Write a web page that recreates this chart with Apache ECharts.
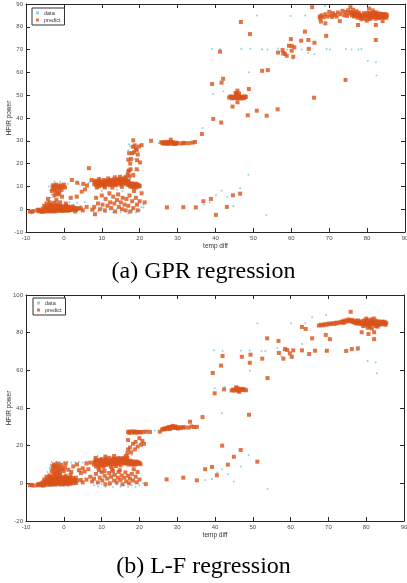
<!DOCTYPE html>
<html><head><meta charset="utf-8">
<script src="https://cdn.jsdelivr.net/npm/echarts/dist/echarts.min.js"></script>
<style>html,body{margin:0;padding:0;background:#fff}#c{width:407px;height:583px}</style>
</head><body><div id="c"></div>
<script>
const xTicks = [-10,0,10,20,30,40,50,60,70,80,90];
const gprYTicks = [-10,0,10,20,30,40,50,60,70,80,90];
const lfYTicks = [-20,0,20,40,60,80,100];
const seriesNames = ['data','predict'];
const captions = ['(a) GPR regression','(b) L-F regression'];
const xName = 'temp diff';
const yName = 'HFIR power';

const gprData = [[-7,-1.5],[-6,-1.2],[-5,-1.5],[-4,-1.3],[-3,-1.4],[-2,-1.2],[-1,-1.3],[0,-1],[1,-1.2],[2,-0.8],[3,-0.5],[-4.5,1.8],[-4,3.5],[-3.5,5],[-3.2,6.5],[-3.5,8.5],[-3.2,11.2],[-4,10],[-2.5,12],[-1,12],[1,11],[1.5,3],[2.5,2],[3.5,2.8],[4.5,1.5],[5.5,3.2],[6.5,11.5],[7,12],[4,11],[8,0],[9,-1],[10,0.5],[11,-1.5],[12,0],[13,-1.2],[14,0.2],[15,-1.5],[16,-0.5],[17,-1.8],[18,-0.8],[19,-1.5],[20,-0.5],[21,0.8],[15.5,8],[17.5,13.5],[18.5,14],[17,26],[17.4,27.5],[17.2,28.5],[18.5,22],[19.8,17],[21,2],[10,8],[12,6],[14,8.5],[9.5,13.5],[13,14],[16,14.5],[25,29],[32,28.6],[20.5,1],[50.9,85],[59.8,84.7],[63.7,85],[68.9,89.1],[39.1,70.3],[41.2,70.3],[46.8,70.3],[49.2,70.3],[52.3,70.2],[53.7,70],[56.5,70.5],[58.9,70],[62.7,70],[64.5,68.5],[66.1,68],[69.3,70.3],[70.2,70],[74.4,70.3],[75.9,70],[78.5,70.3],[77.7,70],[80.2,65.1],[82.3,64.4],[82.5,58.6],[48.8,60.1],[42.1,51.7],[39.4,50.4],[36.6,35.6],[48.7,15.1],[46.5,9.2],[41.6,8.1],[40.1,6.1],[43.1,5.2],[38.5,2.9],[37,2.1],[44.7,1.4],[53.4,-2.5],[60.5,66],[57.5,67.5],[72,86],[78,86.5],[84,86]];

const gprPredict = [[-9,-1],[-8.5,-1.2],[-8,-0.8],[-7,-0.5],[-6.5,-1],[-6,-0.8],[-5.8,-1.2],[-5.5,-0.5],[-5.2,-1],[-5,-0.2],[-4.8,-0.9],[-4.5,0.3],[-4.3,-0.6],[-4,0.8],[-4,-1],[-3.8,0.2],[-3.6,-0.4],[-3.5,1.2],[-3.3,-0.8],[-3.2,0.5],[-3,0],[-3,1.5],[-2.8,-0.6],[-2.6,0.7],[-2.5,-0.2],[-2.3,1],[-2.2,-0.9],[-2,0.3],[-1.8,-0.5],[-1.7,0.8],[-1.5,0],[-1.3,-0.7],[-1.2,1.2],[-1,0.4],[-0.8,-0.4],[-0.6,0.9],[-0.5,-0.1],[-0.3,0.5],[-0.2,-0.8],[0,0.2],[0.2,1],[0.3,-0.5],[0.5,0.5],[0.7,-0.2],[0.9,0.8],[1,0],[1.2,-0.6],[1.4,0.6],[1.6,0.1],[1.8,-0.3],[2,0.7],[2.3,0.2],[2.6,-0.2],[3,0.4],[3.5,0.1],[-4.6,2.5],[-3.8,3],[-3.4,2],[-2.7,2.8],[-1.9,2.2],[-1,3],[0.5,2.5],[-5.2,1.5],[4,0.5],[-2,4],[-4.2,4.5],
[-6.8,-0.2],[-6.2,-0.4],[-5.6,0.2],[-4.9,0.6],[-4.4,1.1],[-3.9,-0.3],[-3.7,1.6],[-3.1,-0.9],[-2.9,0.9],[-2.4,0.1],[-2.1,1.6],[-1.9,-0.2],[-1.6,1.4],[-1.4,-0.3],[-1.1,0.6],[-0.9,1.5],[-0.7,0.2],[-0.4,-0.5],[-0.1,1.3],[0.1,-0.3],[0.4,0.9],[0.6,1.6],[0.8,-0.5],[1.1,1.2],[1.3,0.3],[1.5,-0.4],[1.7,1],[2.1,-0.1],[2.4,1.1],[2.8,0.6],[3.2,-0.2],[-4.1,-0.3],[-3.4,0.7],[-2.6,-0.9],
[-3,10],[-2.8,9],[-2.6,10.5],[-2.4,8.5],[-2.2,9.8],[-2,10.8],[-1.8,8],[-1.6,9.5],[-1.4,10.2],[-1.2,7.2],[-1,9],[-0.8,10.5],[-0.6,8.5],[-0.3,9.8],[0,10.8],[-2.5,6],[-1.5,6.5],[-0.5,5.5],[-2.2,7],[0.3,9.5],[-3.2,8],
[2.1,12.8],[3.5,11.6],[5.1,11.1],[5.6,8.7],[6.6,18],[6.1,10.4],[4.7,7.7],[7.3,12.8],[1.8,5],[3.4,5.5],
[8,11],[8.3,12],[8.5,10.5],[8.8,11.5],[9,12.5],[9.2,10],[9.5,11],[9.8,12],[10,10.5],[10.2,11.8],[10.5,12.8],[10.7,10.2],[11,11.3],[11.2,12.5],[11.5,10.8],[11.8,11.8],[12,12.8],[12.2,10.5],[12.5,11.5],[12.7,12.2],[13,10.8],[13.2,13],[13.5,11.8],[13.8,10.5],[14,12.5],[14.2,11.2],[14.5,13.2],[14.7,12],[15,10.8],[15.2,12.8],[15.5,11.5],[15.7,13.5],[16,12],[16.2,11],[16.5,13],[16.8,12.2],[17,10.5],[17.2,11.5],[17.5,10],[17.7,11],[18,9.8],[18.2,10.8],[18.5,10.2],[18.8,11.2],[19,9.5],[19.3,10.5],[19.6,10.8],[20,10.2],[16.3,14],[16.8,15],[17,16.5],[17.3,14.5],[9.3,13.2],[10.8,9.5],[12.8,9.5],[13.5,14],[11.7,13.5],[15.3,9.8],[14.8,14.2],[8.7,9.5],
[8.1,12.5],[8.6,11.2],[9.1,11.5],[9.4,12.2],[9.7,10.8],[10.1,11.5],[10.4,10.8],[10.9,12.3],[11.3,11.8],[11.7,11],[12.1,11.5],[12.4,12.8],[12.9,11.5],[13.1,12.2],[13.4,10.9],[13.7,12.8],[14.1,11.8],[14.4,12.6],[14.9,11.5],[15.1,12.2],[15.4,13],[15.8,12.3],[16.1,13.2],[16.4,12],[16.7,11.2],[17.1,12.4],[17.4,10.8],[17.8,10.2],[18.1,11.3],[18.4,9.8],[18.7,10.6],[19.1,11],[19.4,9.9],[19.8,10],
[7.5,-0.2],[8,1],[8.5,5],[9,2.5],[9.5,0],[10,6],[10.2,2],[10.8,-0.5],[11,4.5],[11.5,1.5],[12,7],[12.2,3],[12.5,0.5],[13,5.5],[13.3,2.5],[13.5,-1],[14,4],[14.3,6.5],[14.5,1],[15,3],[15.3,0],[15.5,5],[16,2],[16.3,-0.5],[16.5,4.5],[17,1.5],[17.3,6],[17.5,-1],[18,3.5],[18.3,0.5],[18.5,8],[19,5],[19.3,2],[19.5,-0.5],[20,3.5],[20.5,7],[21.3,3],[8.2,-2.2],[5,-0.5],[6,1],[4.5,0.3],[3,-1],
[17.2,17],[17.5,20],[17.7,22],[18,24.5],[18.2,27.4],[18.5,25],[18.7,28],[19,26.5],[19.2,26],[19.5,24],[19.8,27.5],[20.1,20.5],[20.5,28.1],[19.3,21.5],[18.3,30.2],[17,21.7],[19.2,17.5],[17.2,24.6],[18.3,15],[17.6,17.5],
[23,30],[25.7,29.4],[26,29],[26.3,28.8],[26.6,29.5],[27,29],[27.3,28.7],[27.6,29.3],[28,29.2],[28.2,30.5],[28.5,28.8],[28.8,29.3],[29,29],[29.3,28.6],[29.6,29.2],[30,29],[31,28.8],[31.5,29.1],[32,29],[33,29],[34,29.2],[34.6,29.5],[26.8,28.9],[27.8,28.7],[28.4,29.5],[29.1,28.7],[29.8,28.8],[27.4,29.4],[27.2,0.8],[31.5,0.9],[34.8,0.8],[36.8,3.5],[36.4,33],
[38.8,4.5],[40.1,-2.5],[43,1],[44.6,6.1],[46.5,6.8],[39.4,39.6],[41.5,38],[39.1,54.9],[41.6,55.5],[42,57.2],[41.2,69.1],
[43.6,49],[44,49.5],[44.3,48.6],[44.6,49.2],[45,49],[45.3,49.6],[45.5,48.8],[45.8,49.3],[46,48.6],[46.2,49.8],[46.5,49.1],[46.8,48.7],[47,49.4],[47.3,49],[47.6,48.8],[48,49.2],[45.3,51],[45.8,52],[45.5,50.5],[46.2,50.8],[45.8,46.9],[44.5,45],[44.2,49.2],[44.9,48.8],[45.6,49.8],[46.4,48.9],[47.1,48.6],[47.8,49.5],
[48.8,52.7],[48.5,41.2],[50.9,43.2],[53.5,41],[56.4,43.8],[52.3,60.7],[53.8,61],[46.7,82.1],[49.1,76.8],
[57.7,69.8],[57.9,68.6],[58.3,68.1],[58.8,67.3],[59.4,71.7],[60.1,71.6],[60.8,71],[60.1,69.5],[60.5,66.9],[56.5,68.7],[59.9,74.6],[62.6,73.9],[63.6,77.9],[64.5,74.2],[66.1,73],[64.6,70.3],[65.5,88.6],[69.2,76],[74.3,56.7],[66,48.9],[82.3,74.2],
[67.5,84.5],[67.6,83.7],[67.8,82.3],[68,85],[68.5,84.2],[69,85.5],[69,81.5],[69.5,84.5],[70,86.6],[70.3,85],[70.8,84.3],[71,86],[71.5,85.2],[72,84.5],[72.3,86.3],[72.8,82.5],[73,85.5],[73.5,87],[74,85],[74.3,86.5],[74.7,84.8],[75,87.2],[75.3,85.8],[75.6,88.6],[75.8,86.5],[76,85],[76.3,87.5],[76.5,84.5],[76.8,86],[77,85.3],[77.2,86.8],[77.6,80.8],[77.5,84],
[78,85.5],[78.3,84],[78.6,85],[79,84.5],[79.2,86],[79.5,83.5],[79.9,82.7],[80,85],[80.3,84.2],[80.6,85.8],[80.8,84.8],[81,83.8],[81.3,85.3],[81.5,84.5],[81.8,86.2],[82,85],[82.2,83.5],[82.5,84.8],[82.7,85.8],[83,84.2],[83.2,85],[83.5,84.5],[83.8,85.5],[84,84.8],[84.3,84],[84.6,85],[85,84.6],[85.2,85.2],[82.3,80.8],[84.1,82.5],[80.5,88],[81.5,87.2],
[76.2,86],[76.7,85.2],[77.3,84.7],[77.8,86.2],[78.2,85],[78.8,84.2],[79.3,85.3],[79.7,84.8],[80.1,86.2],[80.4,85.3],[80.9,86],[81.2,84.5],[81.6,85.8],[81.9,85],[82.1,84.3],[82.4,86.3],[82.9,85.4],[83.1,83.8],[83.4,85.8],[83.7,84.2],[84.2,85.5],[84.5,84.4],[84.8,85.6],[85.1,84],[78.5,83.3],[80.7,83.4]];

const lfData = [[51.2,85],[60.1,85],[63.9,85],[65.7,88.2],[69.4,89.4],[39.7,70.6],[42,70.2],[46.8,70.4],[49.2,70.5],[52.3,70.2],[53.3,70.2],[56.5,72],[58.6,70.6],[63,74],[66.1,70.6],[69.3,70],[77.7,70.6],[80.4,65],[82.5,64.3],[82.8,58.4],[49.2,59.8],[39.9,50.5],[42.5,51.3],[41.8,37.2],[48.9,15],[46.8,9],[41.9,7.5],[40.6,5.8],[43.4,4.9],[37.4,1.8],[39.2,2.3],[45,1],[53.9,-2.9],[60.5,66.5],[57.5,67.5],[-7,-1.5],[-6,-1.3],[-5,-1.6],[-4,-1.4],[-3,-1.5],[-2,-1.3],[-1,-1.4],[0,-1.1],[1,-1.3],[2,-1],[3,-0.6],[-3.5,10],[-3.2,11.5],[-2,11.5],[-1,11],[0,11.5],[1,11.5],[2,11],[3,11.2],[4,11.5],[5,11],[6,11.5],[-4.3,6],[-3.8,8],[8,-1],[9,-1.5],[10,-0.5],[11,-1.8],[12,-1],[13,-2],[14,-0.8],[15,-1.8],[16,-1],[17,-2],[18,-1.2],[19,-1.8],[20,-1],[21,0],[17,14.5],[18,15],[16,15],[9,14.5],[17,28],[19,27.8],[22,28],[24,28],[30,28.8],[32,29],[10,6],[13,5],[15,7],[72,84],[78,84],[84,84.5]];

const lfPredict = [[-9,-1],[-8.5,-0.8],[-8,-1.2],[-7,-1],[-6.5,-0.6],[-6,-1],[-5.7,-0.4],[-5.5,-1.2],[-5.2,0],[-5,-0.8],[-4.8,0.5],[-4.5,-0.5],[-4.3,1],[-4,0],[-4,2],[-3.8,-0.8],[-3.6,1.5],[-3.5,0.3],[-3.3,2.5],[-3.2,-0.3],[-3,1],[-3,3],[-2.8,0],[-2.6,2],[-2.5,-0.6],[-2.3,1.2],[-2.2,3.5],[-2,0.4],[-1.8,2.2],[-1.7,-0.5],[-1.5,1],[-1.3,3],[-1.2,0],[-1,1.8],[-0.8,-0.4],[-0.6,2.5],[-0.5,0.6],[-0.3,1.5],[-0.2,-0.6],[0,0.8],[0.2,2.2],[0.3,-0.2],[0.5,1.2],[0.7,0],[0.9,2],[1,0.5],[1.2,-0.5],[1.4,1.5],[1.6,3],[1.8,0.2],[2,1.2],[2.3,0.4],[2.6,2],[3,0.8],[3.5,1.5],[-4.6,3.5],[-3.8,4.2],[-2.7,4.8],[-1.9,5],[-1,4.5],[0.5,4],[1.8,4.5],[-5.2,2],[3.2,3],
[-6.8,-0.5],[-6.2,-0.2],[-5.6,0.5],[-4.9,1.2],[-4.4,2.3],[-3.9,0.6],[-3.7,2.8],[-3.1,1.8],[-2.9,-0.4],[-2.4,2.6],[-2.1,1.4],[-1.9,3.6],[-1.6,0.2],[-1.4,2.4],[-1.1,3.8],[-0.9,0.9],[-0.7,3.3],[-0.4,2],[-0.1,0],[0.1,3.2],[0.4,1.8],[0.6,0.4],[0.8,3],[1.1,1.2],[1.3,2.6],[1.5,0.8],[1.7,2],[2.1,0],[2.4,2.8],[2.8,1.5],[3.2,0.2],[-4.1,0.9],[-3.4,3.6],[-2.6,1],
[-3,9],[-2.8,7.5],[-2.6,10],[-2.4,8],[-2.2,9.5],[-2,6.5],[-1.8,8.5],[-1.6,10.5],[-1.4,7],[-1.2,9],[-1,6],[-0.8,8],[-0.6,9.8],[-0.3,7.5],[0,6.5],[0.3,8.5],[-2.5,5.5],[-1.5,5.8],[-3.2,6.5],[0.5,10.5],[1.2,7.2],[2,6],[2.5,9],[3.5,10],[4.5,5.5],[5,8],[6,10.5],[5.5,6.2],[7,11],[6.5,7.5],[4,7],
[8,10],[8.2,11.5],[8.5,9],[8.7,12.5],[9,10.5],[9.2,8],[9.5,11.8],[9.8,9.5],[10,12.8],[10.2,10.8],[10.5,8.5],[10.7,11.5],[11,13],[11.2,9.8],[11.5,12],[11.8,10.5],[12,13.5],[12.2,11.2],[12.5,8.8],[12.7,12.5],[13,10.2],[13.2,13.2],[13.5,11.5],[13.8,9.2],[14,12.8],[14.2,10.5],[14.5,13.5],[14.7,11.8],[15,9.5],[15.2,12.5],[15.5,11],[15.7,13.5],[16,10.5],[16.2,12.5],[16.5,11.5],[16.8,13.5],[17,10],[17.2,11.5],[17.5,10.5],[17.8,11.8],[18,10],[18.2,11],[18.5,10.5],[18.8,11.5],[19,10],[19.3,11],[19.6,10.5],[20,10.8],[20.3,10.2],[16.5,14.5],[16.8,16],[17,18],[9.3,7],[10.8,6.5],[12.8,7.5],[14.8,7],[8.4,13.5],[11,14.2],[13.3,14.5],
[8.1,11],[8.6,12],[9.1,9.2],[9.4,10.5],[9.7,12.5],[10.1,9.8],[10.4,11.8],[10.9,10],[11.3,12.5],[11.7,11.2],[12.1,10],[12.4,12],[12.9,11],[13.1,12.5],[13.4,10],[13.7,13],[14.1,11],[14.4,12],[14.9,10.5],[15.1,13],[15.4,12],[15.8,11.5],[16.1,13],[16.4,10.8],[16.7,12.5],[17.1,11],[17.4,12],[17.8,10.5],[18.1,11.5],[18.4,10],[18.7,11],[19.1,10.5],[19.4,11.5],[19.8,11],
[7.5,1],[8,2.5],[8.5,5],[9,0.5],[9.5,3],[10,6],[10.2,1.5],[10.8,4],[11,-0.5],[11.5,2.5],[12,5.5],[12.2,0],[12.5,3.5],[13,6.5],[13.3,1.5],[13.5,4.5],[14,0.5],[14.3,3],[14.5,6],[15,1.8],[15.3,4.2],[15.5,-0.5],[16,3],[16.3,5.8],[16.5,1],[17,4],[17.3,0],[17.5,2.5],[18,5],[18.3,1.5],[18.5,7.5],[19,3.5],[19.3,0.5],[19.5,6],[20,2],[21.7,-0.4],[5,0.5],[6,2],[4.5,1.8],[7,3.5],
[17,27.3],[17.3,26.8],[17.6,27.5],[18,27],[18.4,27.6],[18.8,26.9],[19.2,27.4],[19.6,27],[20,27.3],[20.5,27],[21,27.4],[22.8,27.3],[19,27.2],[21.8,27.4],[17,23],[17.5,19],[17.8,16.5],[18.3,21],[19,22],[19.5,19.5],[20,24],[20.8,22.5],[21.2,21],[20.4,20.5],[18.8,18],
[25.4,27.4],[26,28.5],[26.3,29],[26.6,28.7],[27,29.3],[27.3,29],[27.6,29.6],[28,29.2],[28.3,30],[28.5,29.5],[28.8,30.5],[29,29.8],[29.3,29.4],[29.6,30],[30,29.5],[30.5,29.8],[31,29.4],[32,29.7],[33,29.6],[33.4,32.7],[33.8,30.2],[34.5,29.9],[35.2,30],[26.8,29],[27.8,29.8],[28.1,28.9],[29.4,30.2],[30.2,29.1],[31.5,29.8],
[27.2,2.1],[31.6,3],[35.2,1.6],[37.4,7.5],[41.9,20],[46.8,17.7],[45,14.1],[43.4,9.9],[51.2,11.5],[39.2,8.7],[40.5,4.3],
[39.9,47.8],[42.4,49.9],[36.7,35.2],[49,36.4],[53.9,55.9],[49.2,64],[39.4,58.6],[41.6,62.5],[42,67.6],[47.1,67.2],[49.4,68.3],[52.5,66.2],[56.9,69.2],[58.1,66.2],[58.5,71.3],[59.1,70.8],[59.8,69],[60.7,70.6],[60.3,67.2],[63,70.6],[64.9,68.7],[66.5,70.4],[69.6,70.4],[74.7,70.3],[76.2,71.3],[77.8,71.7],[53.8,77],[56.8,75.6],[65.7,77],[69.3,78.8],[70.4,76.6],[78.8,80.2],[80.6,79.3],[82.1,80.2],[82.1,76.6],[63,83],[64,82],
[44.4,49.3],[44.8,49.8],[45.2,49.2],[45.5,50],[45.8,49.5],[46,50.5],[46.3,49.2],[46.6,50],[46.9,49.5],[47.2,50.2],[47.5,49.6],[47.8,49.9],[48.2,49.4],[45.6,51],[46.4,48.6],
[67.5,83.8],[68,84.2],[68.5,83.9],[69,84.5],[69.5,84.2],[70,84.8],[70.5,84.5],[71,85],[71.5,84.7],[72,85.3],[72.5,85],[73,85.5],[73.5,85.8],[73.8,85.2],[74,86.3],[74.3,85.5],[74.7,86.5],[75,86],[75.3,87],[75.6,86.2],[75.9,91.1],[76,86.8],[76.3,85.8],[76.6,86.5],[77,85.5],[77.3,86.2],[77.6,85],[78,85.8],[78.3,84.8],[78.6,86],[79,85.2],[79.2,83.5],[79.5,86.5],[79.8,84.5],[80,85.5],[80.2,83.8],[80.5,86.2],[80.8,85],[81,84],[81.2,87],[81.5,85.5],[81.8,84.5],[82,86],[82.3,85],[82.5,83.5],[82.8,85.8],[83,84.8],[83.3,86],[83.6,85.2],[84,84.5],[84.3,85.6],[84.7,85],[85,84.6],[85.3,85.3],[80.4,82.6],[81.5,82.2],
[76.2,86.3],[76.7,85.5],[77.3,85],[77.8,86.5],[78.2,85.2],[78.8,84.5],[79.3,86],[79.7,85],[80.1,86.6],[80.4,85],[80.9,86],[81.2,84.8],[81.6,86.4],[81.9,85.3],[82.1,84.4],[82.4,86.5],[82.9,85.2],[83.1,84],[83.4,85.5],[83.7,84.4],[84.2,85.8],[84.5,84.6],[84.8,85.8],[85.1,84.2],[80,87.5],[82,87.5],[81,83],[83,83.2]];

const AX = '#262626';
const LBL = '#4d4d4d';
function xAxes(gi) {
  const base = {gridIndex: gi, type: 'value', min: xTicks[0], max: xTicks[xTicks.length-1], interval: xTicks[1]-xTicks[0],
    splitLine: {show: false}, axisLine: {onZero: false, lineStyle: {color: AX, width: 1}},
    axisTick: {inside: true, length: 4, lineStyle: {color: AX}}};
  return [
    Object.assign({}, base, {position: 'bottom', name: xName, nameLocation: 'middle', nameGap: 11, nameMoveOverlap: false,
      nameTextStyle: {fontSize: 6.5, color: '#333', fontFamily: 'Liberation Sans'},
      axisLabel: {fontSize: 6, color: LBL, margin: 3, fontFamily: 'Liberation Sans', hideOverlap: false}}),
    Object.assign({}, base, {position: 'top', axisLabel: {show: false}})
  ];
}
function yAxes(gi, ticks) {
  const base = {gridIndex: gi, type: 'value', min: ticks[0], max: ticks[ticks.length-1], interval: ticks[1]-ticks[0],
    splitLine: {show: false}, axisLine: {onZero: false, lineStyle: {color: AX, width: 1}},
    axisTick: {inside: true, length: 4, lineStyle: {color: AX}}};
  return [
    Object.assign({}, base, {position: 'left', name: yName, nameLocation: 'middle', nameGap: 13, nameMoveOverlap: false,
      nameTextStyle: {fontSize: 6.5, color: '#333', fontFamily: 'Liberation Sans'},
      axisLabel: {fontSize: 6, color: LBL, margin: 3, fontFamily: 'Liberation Sans'}}),
    Object.assign({}, base, {position: 'right', axisLabel: {show: false}})
  ];
}
function sc(name, data, xi, yi, color, size, sym) {
  return {name: name, type: 'scatter', data: data, xAxisIndex: xi, yAxisIndex: yi, symbol: sym, symbolSize: size,
    itemStyle: {color: color}, silent: true, animation: false};
}
const legendBase = {orient: 'vertical', icon: 'rect', itemWidth: 3, itemHeight: 3, itemGap: 1, padding: [2, 4, 2, 4],
  borderColor: '#333', borderWidth: 1, backgroundColor: '#fff', selectedMode: false,
  textStyle: {fontSize: 5.5, color: '#333', fontFamily: 'Liberation Sans'}, data: seriesNames};
const gridBase = {containLabel: false, outerBoundsMode: 'none'};
const option = {
  backgroundColor: '#fff',
  animation: false,
  title: [
    {text: captions[0], left: 'center', top: 260, padding: 0, textStyle: {fontFamily: 'Liberation Serif', fontSize: 24, fontWeight: 'normal', color: '#000'}},
    {text: captions[1], left: 'center', top: 555, padding: 0, textStyle: {fontFamily: 'Liberation Serif', fontSize: 24, fontWeight: 'normal', color: '#000'}}
  ],
  legend: [Object.assign({}, legendBase, {left: 32, top: 8}), Object.assign({}, legendBase, {left: 33, top: 298})],
  grid: [
    Object.assign({left: 26, top: 4, width: 379, height: 228}, gridBase),
    Object.assign({left: 26, top: 295, width: 378, height: 226}, gridBase)
  ],
  xAxis: xAxes(0).concat(xAxes(1)),
  yAxis: yAxes(0, gprYTicks).concat(yAxes(1, lfYTicks)),
  series: [
    sc(seriesNames[0], gprData, 0, 0, '#6cc8f0', 2, 'circle'),
    sc(seriesNames[1], gprPredict, 0, 0, '#D95319', 4, 'rect'),
    sc(seriesNames[0], lfData, 2, 2, '#6cc8f0', 2, 'circle'),
    sc(seriesNames[1], lfPredict, 2, 2, '#D95319', 4, 'rect')
  ]
};
const chart = echarts.init(document.getElementById('c'), null, {renderer: 'canvas'});
chart.setOption(option);
</script></body></html>
